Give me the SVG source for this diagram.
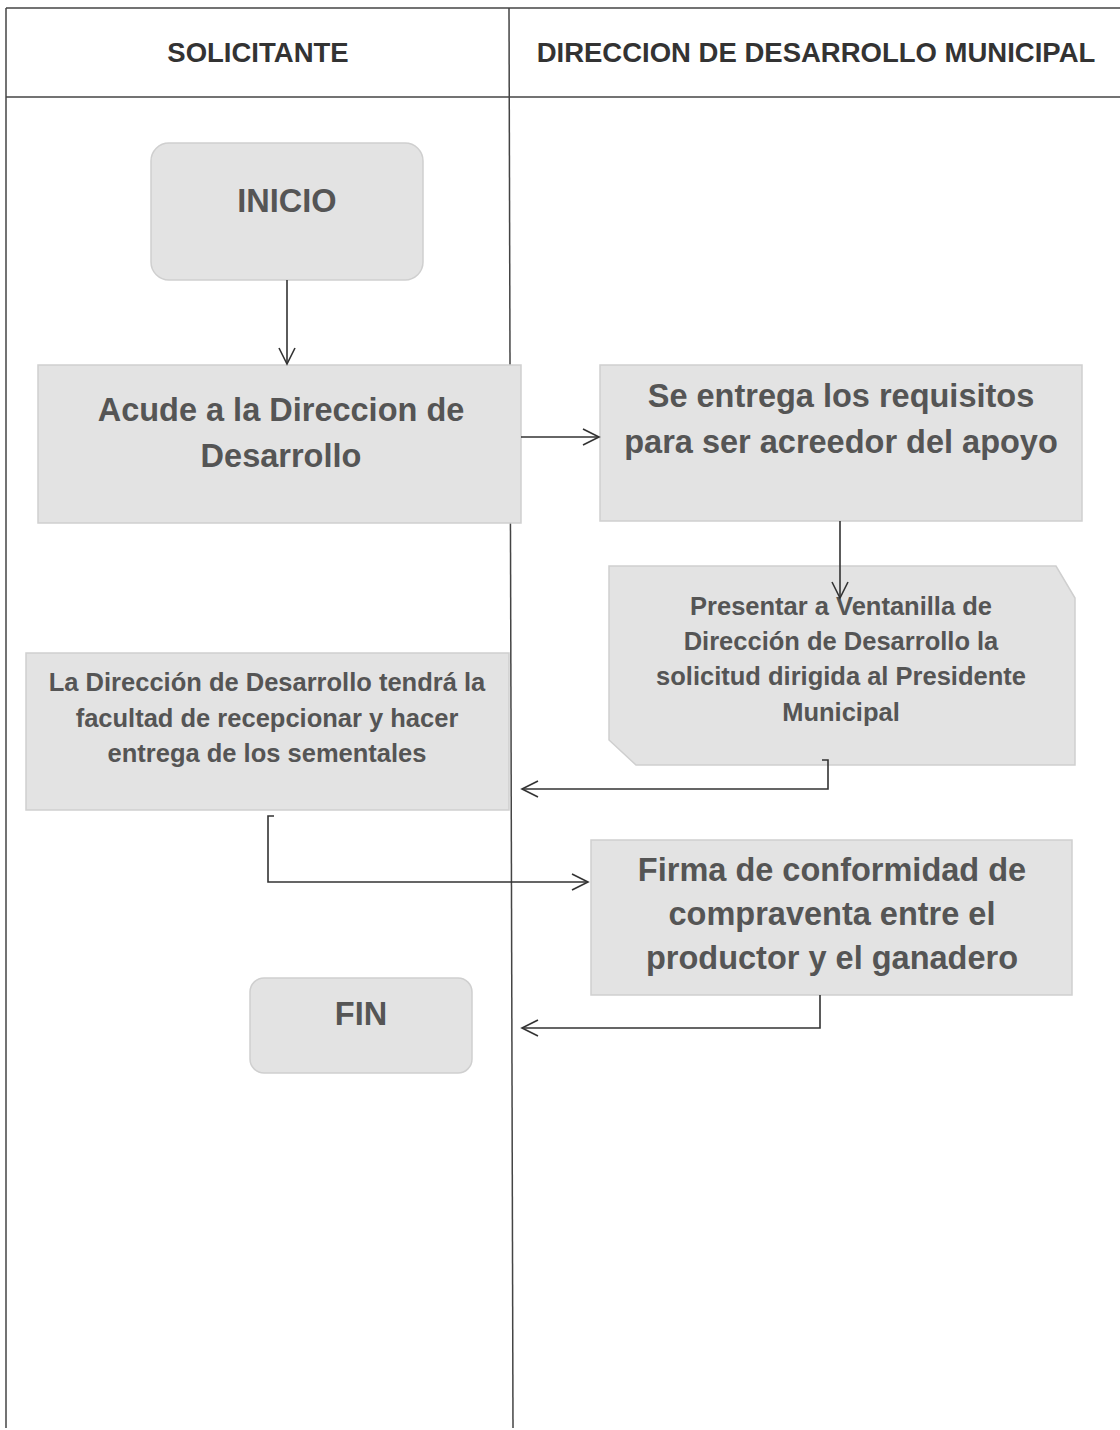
<svg xmlns="http://www.w3.org/2000/svg" width="1120" height="1430" viewBox="0 0 1120 1430">
<defs>
<style>
.grid{stroke:#444;stroke-width:1.5;fill:none}
.hdr{font-family:"Liberation Sans",Arial,sans-serif;font-weight:bold;font-size:27.5px;fill:#333;text-anchor:middle}
.box{fill:#e3e3e3;stroke:#cfcfcf;stroke-width:1.5}
.big{font-family:"Liberation Sans",Arial,sans-serif;font-weight:bold;font-size:32.5px;fill:#555;text-anchor:middle}
.small{font-family:"Liberation Sans",Arial,sans-serif;font-weight:bold;font-size:25.5px;fill:#555;text-anchor:middle}
.conn{stroke:#333;stroke-width:1.6;fill:none}
</style>
<marker id="arr" viewBox="0 0 20 20" refX="18" refY="10" markerWidth="20" markerHeight="20" markerUnits="userSpaceOnUse" orient="auto">
<path d="M2,2 L18,10 L2,18" fill="none" stroke="#333" stroke-width="1.6"/>
</marker>
</defs>
<rect width="1120" height="1430" fill="#fff"/>
<g id="table">
<line class="grid" x1="6" y1="8" x2="1120" y2="8"/>
<line class="grid" x1="6" y1="97" x2="1120" y2="97"/>
<line class="grid" x1="6" y1="8" x2="6" y2="1428"/>
<line class="grid" x1="509" y1="8" x2="513" y2="1428"/>
<text class="hdr" x="258" y="62">SOLICITANTE</text>
<text class="hdr" x="816" y="62">DIRECCION DE DESARROLLO MUNICIPAL</text>
</g>
<g id="inicio">
<rect class="box" x="151" y="143" width="272" height="137" rx="18"/>
<text class="big" x="287" y="212">INICIO</text>
</g>
<g id="acude">
<rect class="box" x="38" y="365" width="483" height="158"/>
<text class="big" x="281" y="421">Acude a la Direccion de</text>
<text class="big" x="281" y="467">Desarrollo</text>
</g>
<g id="entrega">
<rect class="box" x="600" y="365" width="482" height="156"/>
<text class="big" x="841" y="407">Se entrega los requisitos</text>
<text class="big" x="841" y="453">para ser acreedor del apoyo</text>
</g>
<g id="presentar">
<path class="box" d="M609,566 L1056,566 L1075,598 L1075,765 L636,765 L609,740 Z"/>
<text class="small" x="841" y="615">Presentar a Ventanilla de</text>
<text class="small" x="841" y="650">Dirección de Desarrollo la</text>
<text class="small" x="841" y="685">solicitud dirigida al Presidente</text>
<text class="small" x="841" y="721">Municipal</text>
</g>
<g id="facultad">
<rect class="box" x="26" y="653" width="483" height="157"/>
<text class="small" x="267" y="691">La Dirección de Desarrollo tendrá la</text>
<text class="small" x="267" y="727">facultad de recepcionar y hacer</text>
<text class="small" x="267" y="762">entrega de los sementales</text>
</g>
<g id="firma">
<rect class="box" x="591" y="840" width="481" height="155"/>
<text class="big" x="832" y="881">Firma de conformidad de</text>
<text class="big" x="832" y="925">compraventa entre el</text>
<text class="big" x="832" y="969">productor y el ganadero</text>
</g>
<g id="fin">
<rect class="box" x="250" y="978" width="222" height="95" rx="14"/>
<text class="big" x="361" y="1025">FIN</text>
</g>
<g id="connectors">
<path class="conn" d="M287,280 L287,364" marker-end="url(#arr)"/>
<path class="conn" d="M521,437 L599,437" marker-end="url(#arr)"/>
<path class="conn" d="M840,521 L840,598" marker-end="url(#arr)"/>
<path class="conn" d="M822,760 L828,760 L828,789 L522,789" marker-end="url(#arr)"/>
<path class="conn" d="M274,816 L268,816 L268,882 L588,882" marker-end="url(#arr)"/>
<path class="conn" d="M820,995 L820,1028 L522,1028" marker-end="url(#arr)"/>
</g>
</svg>
